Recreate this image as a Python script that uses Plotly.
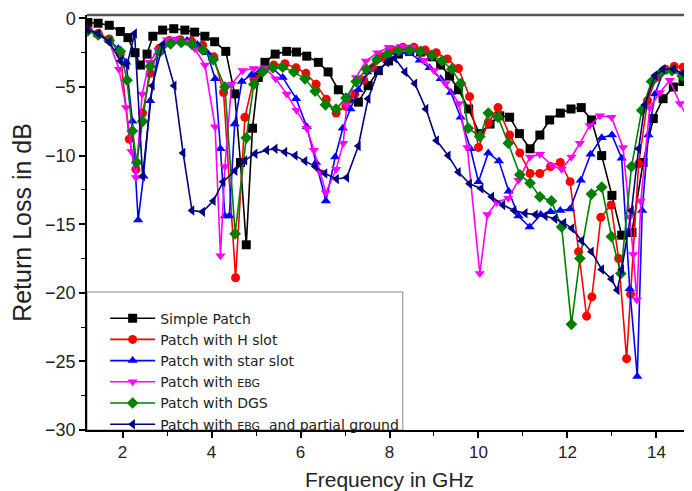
import plotly.graph_objects as go

# ---------------- data ----------------
f_simple = [1.22, 1.45, 1.7, 1.95, 2.12, 2.28, 2.4, 2.55, 2.68, 2.9, 3.15, 3.4, 3.62, 3.85, 4.07,
            4.32, 4.52, 4.65, 4.78, 4.92, 5.05, 5.2, 5.43, 5.69, 5.91, 6.14, 6.4, 6.62, 6.85, 7.07,
            7.3, 7.52, 7.75, 7.98, 8.2, 8.45, 8.7, 8.95, 9.15, 9.35, 9.55, 9.78, 10.02, 10.26, 10.48,
            10.7, 10.92, 11.16, 11.38, 11.6, 11.84, 12.08, 12.31, 12.54, 12.77, 13.0, 13.22, 13.45, 13.7, 13.93,
            14.15, 14.38, 14.6, 14.8]
rl_simple = [-0.3, -0.35, -0.5, -0.95, -1.4, -2.5, -3.4, -2.6, -1.3, -0.85, -0.75, -0.85, -1.0, -1.3, -1.7,
             -2.4, -5.5, -10.5, -16.5, -8.0, -4.3, -3.2, -2.6, -2.4, -2.45, -2.75, -3.2, -3.9, -5.2, -5.85,
             -6.1, -4.9, -3.8, -3.1, -2.6, -2.4, -2.45, -2.8, -3.4, -4.2, -5.2, -6.6, -8.4, -7.7, -7.1,
             -7.2, -8.4, -9.5, -8.5, -7.4, -6.9, -6.6, -6.5, -7.4, -10.0, -12.9, -15.8, -15.6, -10.5, -7.3,
             -5.85, -5.0, -4.6, -4.9]

f_hslot = [1.22, 1.45, 1.7, 1.95, 2.15, 2.3, 2.45, 2.62, 2.82, 3.05, 3.3, 3.55, 3.8, 4.05, 4.27,
           4.54, 4.75, 4.95, 5.15, 5.4, 5.65, 5.9, 6.12, 6.35, 6.58, 6.8, 7.02, 7.22, 7.42, 7.62,
           7.85, 8.08, 8.3, 8.55, 8.8, 9.05, 9.3, 9.55, 9.8, 10.0, 10.22, 10.44, 10.7, 10.93, 11.16,
           11.38, 11.62, 11.84, 12.06, 12.25, 12.43, 12.55, 12.75, 12.98, 13.15, 13.33, 13.42, 13.6, 13.8, 14.0,
           14.2, 14.4, 14.6, 14.8]
rl_hslot = [-0.8, -1.1, -1.5, -2.6, -8.8, -11.0, -6.9, -4.0, -2.2, -1.6, -1.55, -1.65, -1.95, -2.8, -5.4,
            -18.9, -7.2, -4.4, -3.8, -3.4, -3.3, -3.6, -4.0, -4.8, -5.9, -6.9, -6.4, -5.5, -4.5, -3.6,
            -2.8, -2.3, -2.1, -2.1, -2.3, -2.5, -2.95, -3.65, -5.7, -9.4, -7.6, -6.5, -8.5, -9.8, -11.3,
            -11.3, -10.8, -10.5, -11.9, -17.0, -21.7, -20.3, -14.5, -13.6, -17.5, -24.8, -20.1, -10.6, -6.0, -4.3,
            -3.7, -3.5, -3.55, -3.9]

f_star = [1.22, 1.45, 1.7, 1.9, 2.08, 2.22, 2.35, 2.47, 2.62, 2.8, 3.0, 3.22, 3.45, 3.68, 3.9,
          4.08, 4.2, 4.3, 4.4, 4.52, 4.68, 4.9, 5.12, 5.36, 5.6, 5.9, 6.14, 6.35, 6.57, 6.78,
          6.95, 7.12, 7.3, 7.5, 7.72, 7.96, 8.2, 8.45, 8.68, 8.9, 9.15, 9.38, 9.6, 9.82, 10.0,
          10.22, 10.46, 10.68, 10.9, 11.15, 11.4, 11.62, 11.84, 12.06, 12.3, 12.52, 12.77, 13.0, 13.22, 13.4,
          13.57, 13.68, 13.82, 13.97, 14.15, 14.38, 14.6, 14.8]
rl_star = [-0.9, -1.2, -1.6, -2.2, -3.2, -7.5, -14.7, -11.5, -6.0, -2.5, -1.8, -1.6, -1.6, -1.9, -2.5,
           -4.4, -9.5, -14.4, -14.4, -7.7, -4.6, -4.1, -3.7, -3.6, -4.3, -5.85, -7.9, -10.5, -13.3, -10.1,
           -8.0, -6.6, -5.2, -3.9, -3.0, -2.6, -2.5, -2.5, -3.05, -3.6, -4.4, -5.4, -7.2, -9.5, -11.9,
           -9.8, -10.4, -12.6, -14.4, -15.2, -14.3, -14.1, -14.0, -13.9, -11.8, -9.9, -8.7, -8.5, -10.2, -19.7,
           -26.1, -14.0, -8.5, -5.5, -3.9, -3.7, -4.1, -4.8]

f_ebg = [1.22, 1.45, 1.7, 1.92, 2.08, 2.2, 2.3, 2.44, 2.6, 2.8, 3.0, 3.2, 3.42, 3.62, 3.85,
         4.08, 4.2, 4.3, 4.45, 4.7, 4.95, 5.2, 5.44, 5.69, 5.91, 6.14, 6.3, 6.44, 6.57, 6.8,
         6.96, 7.04, 7.25, 7.47, 7.73, 7.98, 8.25, 8.5, 8.77, 9.0, 9.26, 9.56, 9.75, 10.03, 10.2,
         10.41, 10.67, 10.9, 11.16, 11.38, 11.65, 11.87, 12.09, 12.28, 12.5, 12.73, 12.99, 13.25, 13.4, 13.48,
         13.56, 13.65, 13.85, 14.08, 14.3, 14.53, 14.75]
rl_ebg = [-0.9, -1.2, -1.7, -3.7, -6.5, -9.7, -11.6, -5.5, -3.2, -2.3, -1.55, -1.5, -1.7, -2.2, -3.4,
          -7.9, -17.3, -10.8, -4.8, -3.8, -3.65, -3.6, -4.4, -5.5, -6.7, -8.0, -9.6, -11.2, -12.7, -11.0,
          -9.1, -6.3, -4.3, -3.1, -2.5, -2.1, -2.05, -2.1, -3.05, -3.8, -4.75, -6.2, -9.4, -18.6, -14.3,
          -13.4, -13.1, -11.8, -10.1, -9.9, -10.7, -11.0, -10.1, -9.1, -7.8, -7.1, -7.2, -9.4, -14.5, -17.2,
          -20.5, -13.3, -6.5, -5.4, -4.5, -6.2, -7.5]

f_dgs = [1.22, 1.45, 1.7, 1.95, 2.1, 2.22, 2.32, 2.45, 2.62, 2.85, 3.08, 3.32, 3.56, 3.8, 4.04,
         4.3, 4.53, 4.78, 4.95, 5.15, 5.38, 5.6, 5.85, 6.1, 6.33, 6.56, 6.8, 7.02, 7.25, 7.48,
         7.72, 7.95, 8.2, 8.45, 8.7, 8.95, 9.18, 9.4, 9.6, 9.77, 10.03, 10.22, 10.44, 10.67, 10.93,
         11.16, 11.38, 11.64, 11.87, 12.09, 12.28, 12.54, 12.77, 12.99, 13.2, 13.44, 13.67, 13.89, 14.12, 14.35,
         14.58, 14.8]
rl_dgs = [-0.9, -1.2, -1.6, -2.4, -4.5, -8.2, -10.5, -7.5, -3.5, -2.4, -1.85, -1.75, -1.9, -2.3, -3.0,
          -5.0, -15.7, -8.7, -4.8, -3.9, -3.6, -3.55, -3.9, -4.4, -5.3, -6.3, -6.6, -5.8, -4.6, -3.7,
          -3.0, -2.6, -2.35, -2.3, -2.4, -2.7, -3.1, -3.7, -4.75, -8.0, -8.6, -6.9, -7.2, -9.1, -11.4,
          -12.0, -13.0, -13.3, -15.2, -22.3, -17.5, -12.8, -12.3, -15.9, -18.6, -10.8, -6.7, -4.6, -3.9, -3.8,
          -4.2, -4.6]

f_ebg_pg = [1.22, 1.45, 1.7, 1.95, 2.1, 2.27, 2.45, 2.67, 2.9, 3.16, 3.36, 3.56, 3.8, 4.04, 4.26,
            4.53, 4.75, 4.98, 5.24, 5.43, 5.65, 5.88, 6.1, 6.33, 6.55, 6.81, 7.04, 7.3, 7.52, 7.75,
            7.94, 8.12, 8.35, 8.57, 8.82, 9.06, 9.32, 9.55, 9.8, 10.06, 10.3, 10.55, 10.8, 11.05, 11.28,
            11.5, 11.72, 11.92, 12.1, 12.32, 12.54, 12.77, 12.99, 13.12, 13.22, 13.44, 13.6, 13.74, 13.97, 14.15,
            14.38, 14.6, 14.8]
rl_ebg_pg = [-0.8, -1.1, -1.7, -3.1, -3.4, -1.1, -11.5, -4.9, -1.9, -4.9, -9.8, -14.0, -14.1, -13.3, -11.9,
             -11.1, -10.35, -9.86, -9.6, -9.5, -9.74, -10.0, -10.4, -10.8, -11.3, -11.7, -11.6, -9.3, -5.85, -3.8,
             -3.2, -2.9, -3.9, -4.75, -6.6, -8.9, -10.0, -11.2, -12.05, -12.4, -13.0, -13.6, -14.0, -14.2, -14.3,
             -14.4, -14.6, -14.9, -15.3, -16.2, -17.0, -18.3, -19.0, -19.8, -18.3, -14.0, -9.5, -6.3, -4.15, -3.7,
             -3.7, -4.0, -4.5]

series_names = [
    "Simple Patch",
    "Patch with H slot",
    "Patch with star slot",
    "Patch with <span style='font-size:11px'>EBG</span>",
    "Patch with DGS",
    "Patch with <span style='font-size:11px'>EBG</span>  and partial ground",
]
x_ticks = [2, 4, 6, 8, 10, 12, 14]
y_ticks = [-30, -25, -20, -15, -10, -5, 0]

# ---------------- figure ----------------
FONT = "Liberation Sans, Arial, sans-serif"
LEGEND_FONT = "DejaVu Sans, Liberation Sans, sans-serif"
series = [
    (f_simple, rl_simple, "#000000", "square"),
    (f_hslot, rl_hslot, "#ff0000", "circle"),
    (f_star, rl_star, "#0000ff", "triangle-up"),
    (f_ebg, rl_ebg, "#ff00ff", "triangle-down"),
    (f_dgs, rl_dgs, "#008000", "diamond"),
    (f_ebg_pg, rl_ebg_pg, "#000080", "triangle-left"),
]

fig = go.Figure()
for (fx, ry, col, sym), name in zip(series, series_names):
    fig.add_trace(go.Scatter(
        x=fx, y=ry, mode="lines+markers", name=name,
        line=dict(color=col, width=1.6),
        marker=dict(symbol=sym, size=9, color=col, line=dict(width=0)),
    ))

# the page body adds an 8px offset, so the figure is 8px smaller and margins compensate
fig.update_layout(
    width=684, height=483,
    margin=dict(l=79, r=0, t=7, b=61),
    paper_bgcolor="white", plot_bgcolor="white",
    font=dict(family=FONT, color="#222"),
    showlegend=True,
    legend=dict(
        x=0.03, y=0.307, xanchor="left", yanchor="top",
        bgcolor="rgba(0,0,0,0)", borderwidth=0,
        font=dict(family=LEGEND_FONT, size=14, color="#222"),
        itemwidth=45, tracegroupgap=0,
    ),
    shapes=[
        dict(type="rect", xref="paper", yref="paper", x0=0, x1=0.522, y0=0, y1=0.3325,
             line=dict(color="#888", width=1), fillcolor="white", layer="below"),
        dict(type="line", xref="paper", yref="paper", x0=0, x1=1, y0=1, y1=1,
             line=dict(color="#555", width=2.5), layer="above"),
    ],
)
fig.update_xaxes(
    range=[1.2, 14.8], tickvals=x_ticks, ticks="outside", ticklen=6, tickwidth=1.5, tickcolor="black",
    minor=dict(dtick=1, tick0=1, ticks="outside", ticklen=4, tickwidth=1.2, tickcolor="black"),
    showline=True, linecolor="black", linewidth=2, mirror=False,
    showgrid=False, zeroline=False,
    tickfont=dict(family=FONT, size=17, color="#222"),
    title=dict(text="Frequency in GHz", font=dict(family=FONT, size=21, color="#222"), standoff=12),
)
fig.update_yaxes(
    range=[-30, 0.25], tickvals=y_ticks, ticks="outside", ticklen=6, tickwidth=1.5, tickcolor="black",
    minor=dict(dtick=2.5, tick0=0, ticks="outside", ticklen=4, tickwidth=1.2, tickcolor="black"),
    showline=True, linecolor="black", linewidth=1.5,
    showgrid=False, zeroline=False,
    tickfont=dict(family=FONT, size=18, color="#222"),
    title=dict(text="Return Loss in dB", font=dict(family=FONT, size=25, color="#222"), standoff=6),
)

fig.write_html("out.html")
